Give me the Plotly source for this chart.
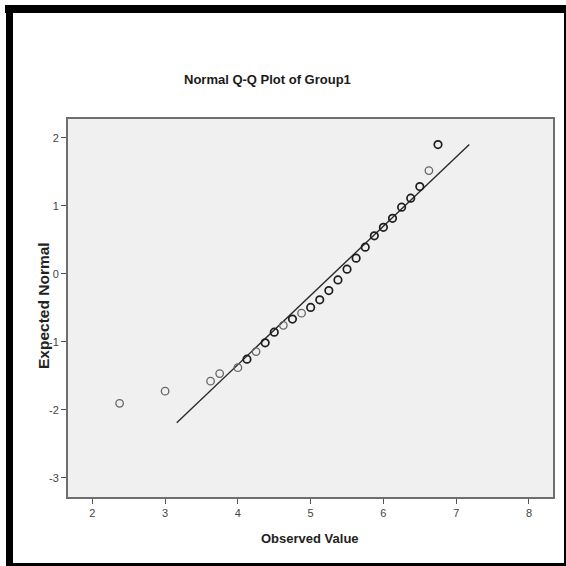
import plotly.graph_objects as go

# ---- data ----
observed = [2.375, 3.0, 3.625, 3.75, 4.0, 4.125, 4.25, 4.375, 4.5, 4.625, 4.75, 4.875,
            5.0, 5.125, 5.25, 5.375, 5.5, 5.625, 5.75, 5.875, 6.0, 6.125, 6.25, 6.375,
            6.5, 6.625, 6.75]
expected = [-1.904, -1.725, -1.578, -1.466, -1.380, -1.255, -1.143, -1.015, -0.858, -0.758,
            -0.666, -0.579, -0.494, -0.383, -0.247, -0.090, 0.068, 0.229, 0.391, 0.557,
            0.682, 0.814, 0.979, 1.111, 1.281, 1.516, 1.898]
ties = [1, 1, 1, 1, 1, 2, 1, 2, 2, 1, 2, 1, 2, 2, 2, 2, 2, 2, 2, 2, 2, 2, 2, 2, 2, 1, 2]
line_x = [3.16, 7.18]
line_y = [-2.19, 1.90]
x_ticks = [2, 3, 4, 5, 6, 7, 8]
y_ticks = [-3, -2, -1, 0, 1, 2]
y_tick_labels = ["-3", "-2", "-1", "0", "1", "2"]

W = H = 566
L, R, T, B = 68, 13, 119, 69
PW, PH = W - L - R, H - T - B

def px(x):
    return (x - L) / PW

def py(y):
    return (H - B - y) / PH

fig = go.Figure()
fig.add_trace(go.Scatter(x=line_x, y=line_y, mode="lines",
                         line=dict(color="#2a2a2a", width=1.4), hoverinfo="skip"))
fig.add_trace(go.Scatter(
    x=observed, y=expected, mode="markers",
    marker=dict(symbol="circle-open", size=7.5,
                color=["#1e1e1e" if t > 1 else "#666666" for t in ties],
                line=dict(width=[1.7 if t > 1 else 1.3 for t in ties])),
))

narrow = "Liberation Sans Narrow, Arial Narrow, Liberation Sans, Arial"
bold = "Liberation Sans, Arial"

fig.update_layout(
    width=W, height=H, showlegend=False, hovermode=False,
    margin=dict(l=L, r=R, t=T, b=B, pad=0),
    paper_bgcolor="white", plot_bgcolor="#f0f0f0",
    xaxis=dict(range=[1.666, 8.33], tickvals=x_ticks, ticks="outside", ticklen=5,
               tickcolor="#555", tickwidth=1, showgrid=False, zeroline=False,
               showline=True, linecolor="#6e6e6e", linewidth=2, mirror=True,
               tickfont=dict(family=narrow, size=11, color="#444")),
    yaxis=dict(range=[-3.28, 2.274], tickvals=y_ticks, ticktext=y_tick_labels,
               ticks="outside", ticklen=5,
               tickcolor="#555", tickwidth=1, showgrid=False, zeroline=False,
               showline=True, linecolor="#6e6e6e", linewidth=2, mirror=True,
               tickfont=dict(family=narrow, size=11, color="#444")),
    annotations=[
        dict(text="<b>Normal Q-Q Plot of Group1</b>", xref="paper", yref="paper",
             x=px(267), y=py(80), xanchor="center", yanchor="middle",
             showarrow=False, font=dict(family=narrow, size=13, color="#1a1a1a")),
        dict(text="<b>Observed Value</b>", xref="paper", yref="paper",
             x=px(310), y=py(538), xanchor="center", yanchor="middle",
             showarrow=False, font=dict(family=bold, size=13, color="#222")),
        dict(text="<b>Expected Normal</b>", xref="paper", yref="paper",
             x=px(43), y=py(306), xanchor="center", yanchor="middle", textangle=-90,
             showarrow=False, font=dict(family=bold, size=15.5, color="#222")),
    ],
    shapes=[
        dict(type="rect", xref="paper", yref="paper", x0=px(5), x1=px(566), y0=py(5), y1=py(13),
             fillcolor="black", line=dict(width=0)),
        dict(type="rect", xref="paper", yref="paper", x0=px(6), x1=px(13), y0=py(5), y1=py(566),
             fillcolor="black", line=dict(width=0)),
        dict(type="rect", xref="paper", yref="paper", x0=px(564), x1=px(566), y0=py(5), y1=py(566),
             fillcolor="black", line=dict(width=0)),
        dict(type="rect", xref="paper", yref="paper", x0=px(6), x1=px(566), y0=py(563), y1=py(566),
             fillcolor="black", line=dict(width=0)),
    ],
)

fig.write_html("out.html", config={"displayModeBar": False},
               post_script="document.body.style.margin='0';document.body.style.overflow='hidden';")
